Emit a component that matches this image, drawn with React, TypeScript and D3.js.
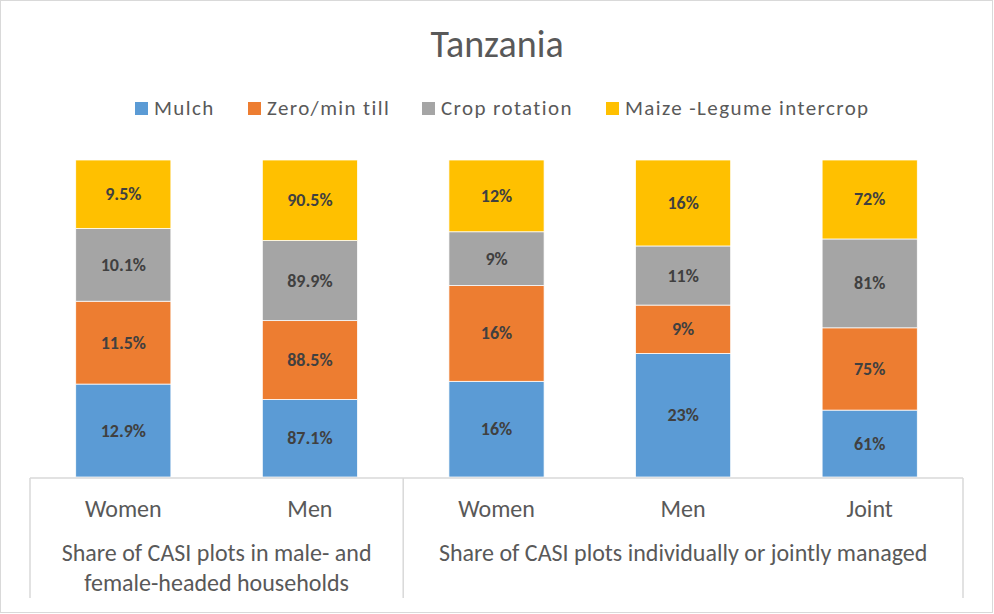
import React, { useEffect, useRef } from "react";
import * as d3 from "d3";

const categories = ["Women", "Men", "Women", "Men", "Joint"];
const seriesNames = ["Mulch", "Zero/min till", "Crop rotation", "Maize -Legume intercrop"];
const colors = ["#5b9bd5", "#ed7d31", "#a5a5a5", "#ffc000"];
const mulch = [12.9, 87.1, 16, 23, 61];
const zeroTill = [11.5, 88.5, 16, 9, 75];
const cropRotation = [10.1, 89.9, 9, 11, 81];
const intercrop = [9.5, 90.5, 12, 16, 72];
const labelTexts = [
  ["12.9%", "87.1%", "16%", "23%", "61%"],
  ["11.5%", "88.5%", "16%", "9%", "75%"],
  ["10.1%", "89.9%", "9%", "11%", "81%"],
  ["9.5%", "90.5%", "12%", "16%", "72%"],
];
const groups = [
  { label: ["Share of CASI plots in male- and", "female-headed households"], from: 0, to: 2 },
  { label: ["Share of CASI plots individually or jointly managed"], from: 2, to: 5 },
];

const W = 994;
const H = 614;
const font = "Calibri, Carlito, 'Noto Sans', sans-serif";

export default function App() {
  const ref = useRef<SVGSVGElement>(null);

  useEffect(() => {
    const svg = d3.select(ref.current);
    svg.selectAll("*").remove();

    const margin = { top: 160, left: 30, right: 31, bottom: 137 };
    const innerBottom = H - margin.bottom;

    const rows = categories.map((c, i) => ({
      idx: i,
      s0: mulch[i],
      s1: zeroTill[i],
      s2: cropRotation[i],
      s3: intercrop[i],
    }));
    const keys = ["s0", "s1", "s2", "s3"];
    const stacked = d3.stack<any>().keys(keys).offset(d3.stackOffsetExpand)(rows);

    const x = d3
      .scaleBand<number>()
      .domain(d3.range(categories.length))
      .range([margin.left, W - margin.right])
      .paddingInner(0.49)
      .paddingOuter(0.245);
    const y = d3.scaleLinear().domain([0, 1]).range([innerBottom, margin.top]);

    // outer frame
    svg
      .append("rect")
      .attr("x", 0.5)
      .attr("y", 0.5)
      .attr("width", W - 2)
      .attr("height", H - 2)
      .attr("fill", "#fff")
      .attr("stroke", "#d9d9d9");

    svg
      .append("text")
      .attr("x", W / 2)
      .attr("y", 57)
      .attr("text-anchor", "middle")
      .attr("font-family", font)
      .attr("font-size", 38)
      .attr("fill", "#595959")
      .text("Tanzania");

    // legend
    const legendX = [135, 248, 422, 606];
    seriesNames.forEach((name, i) => {
      const g = svg.append("g").attr("transform", `translate(${legendX[i]},102)`);
      g.append("rect").attr("width", 13).attr("height", 13).attr("fill", colors[i]);
      g.append("text")
        .attr("x", 19)
        .attr("y", 13)
        .attr("font-family", font)
        .attr("font-size", 21)
        .attr("letter-spacing", 1.4)
        .attr("fill", "#595959")
        .text(name);
    });

    // bars
    stacked.forEach((layer, si) => {
      const g = svg.append("g");
      g.selectAll("rect")
        .data(layer)
        .enter()
        .append("rect")
        .attr("x", (d: any) => x(d.data.idx)!)
        .attr("y", (d) => y(d[1]))
        .attr("width", x.bandwidth())
        .attr("height", (d) => y(d[0]) - y(d[1]))
        .attr("fill", colors[si])
        .attr("stroke", "#fff")
        .attr("stroke-width", 0.75);
      g.selectAll("text")
        .data(layer)
        .enter()
        .append("text")
        .attr("x", (d: any) => x(d.data.idx)! + x.bandwidth() / 2)
        .attr("y", (d) => (y(d[0]) + y(d[1])) / 2 + 6)
        .attr("text-anchor", "middle")
        .attr("font-family", font)
        .attr("font-size", 18)
        .attr("font-weight", "bold")
        .attr("fill", "#404040")
        .text((d: any) => labelTexts[si][d.data.idx]);
    });

    // category axis
    const axis = svg.append("g").attr("stroke", "#d9d9d9").attr("stroke-width", 1.5);
    axis
      .append("line")
      .attr("x1", margin.left)
      .attr("x2", W - margin.right)
      .attr("y1", innerBottom + 1)
      .attr("y2", innerBottom + 1);
    const step = x.step();
    const bounds = [0, 2, 5];
    bounds.forEach((b) => {
      const bx = margin.left + step * b;
      axis
        .append("line")
        .attr("x1", bx)
        .attr("x2", bx)
        .attr("y1", innerBottom + 1)
        .attr("y2", 598);
    });

    categories.forEach((c, i) => {
      svg
        .append("text")
        .attr("x", x(i)! + x.bandwidth() / 2)
        .attr("y", 517)
        .attr("text-anchor", "middle")
        .attr("font-family", font)
        .attr("font-size", 24)
        .attr("fill", "#595959")
        .text(c);
    });

    groups.forEach((gr) => {
      const cx = margin.left + step * ((gr.from + gr.to) / 2);
      gr.label.forEach((line, li) => {
        svg
          .append("text")
          .attr("x", cx)
          .attr("y", 561 + li * 30)
          .attr("text-anchor", "middle")
          .attr("font-family", font)
          .attr("font-size", 24)
          .attr("fill", "#595959")
          .text(line);
      });
    });
  }, []);

  return (
    <svg
      ref={ref}
      width={W}
      height={H}
      style={{ position: "absolute", left: 0, top: 0, display: "block" }}
    />
  );
}
